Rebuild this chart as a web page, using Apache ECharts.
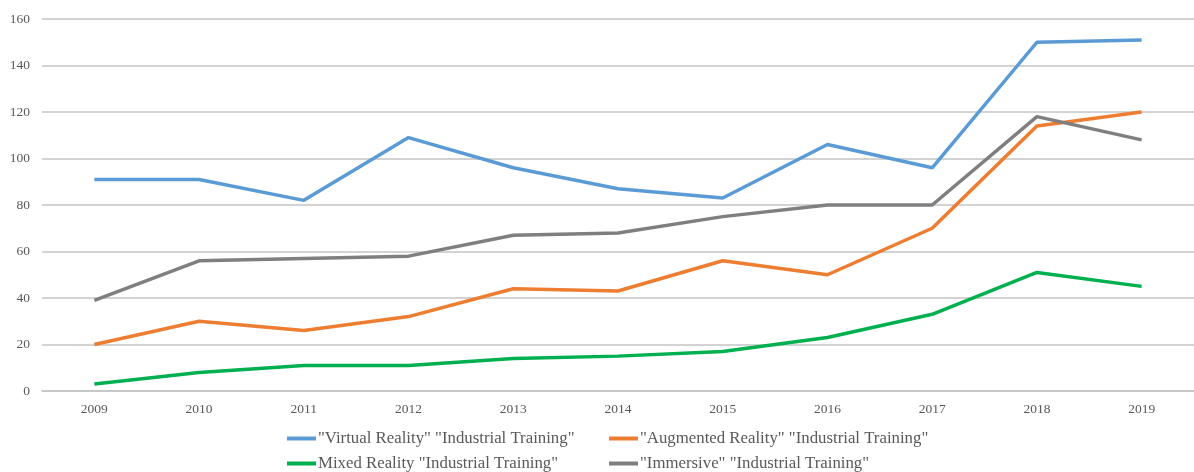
<!DOCTYPE html>
<html>
<head>
<meta charset="utf-8">
<script src="https://cdn.jsdelivr.net/npm/echarts@6/dist/echarts.min.js"></script>
<style>
  html, body { margin: 0; padding: 0; background: #fff; }
  #chart { width: 1194px; height: 472px; }
</style>
</head>
<body>
<div id="chart"></div>
<script>
var years = ['2009', '2010', '2011', '2012', '2013', '2014', '2015', '2016', '2017', '2018', '2019'];
var virtualReality = [91, 91, 82, 109, 96, 87, 83, 106, 96, 150, 151];
var augmentedReality = [20, 30, 26, 32, 44, 43, 56, 50, 70, 114, 120];
var mixedReality = [3, 8, 11, 11, 14, 15, 17, 23, 33, 51, 45];
var immersive = [39, 56, 57, 58, 67, 68, 75, 80, 80, 118, 108];

var names = [
  '"Virtual Reality" "Industrial Training"',
  '"Augmented Reality" "Industrial Training"',
  'Mixed Reality "Industrial Training"',
  '"Immersive" "Industrial Training"'
];
var colors = ['#5B9BD5', '#ED7D31', '#00B050', '#7F7F7F'];
var font = 'Liberation Serif, Times New Roman, serif';

// one legend per item so the two columns line up like the original
var legendPos = [
  { left: 287, top: 430 },
  { left: 609, top: 430 },
  { left: 287, top: 455 },
  { left: 609, top: 455 }
];
var legends = names.map(function (n, i) {
  return {
    data: [n],
    left: legendPos[i].left,
    top: legendPos[i].top,
    padding: 0,
    icon: 'rect',
    itemWidth: 29,
    itemHeight: 4,
    itemGap: 0,
    textStyle: { fontFamily: font, fontSize: 16.8, color: '#595959', padding: [0, 0, 0, -3] }
  };
});

function line(name, data, color) {
  return {
    name: name,
    type: 'line',
    data: data,
    symbol: 'none',
    smooth: false,
    itemStyle: { color: color },
    lineStyle: { color: color, width: 3.5 }
  };
}

var chart = echarts.init(document.getElementById('chart'));
chart.setOption({
  animation: false,
  color: colors,
  legend: legends,
  grid: { left: 42, right: 0, top: 19, bottom: 81 },
  xAxis: {
    type: 'category',
    data: years,
    boundaryGap: true,
    axisLine: { show: true, lineStyle: { color: '#c4c4c4', width: 1.5 } },
    axisTick: { show: false },
    axisLabel: { fontFamily: font, fontSize: 13.5, color: '#595959', margin: 11 }
  },
  yAxis: {
    type: 'value',
    min: 0,
    max: 160,
    interval: 20,
    axisLine: { show: false },
    axisTick: { show: false },
    axisLabel: { fontFamily: font, fontSize: 13.5, color: '#595959', margin: 12 },
    splitLine: { lineStyle: { color: '#c4c4c4', width: 1.5 } }
  },
  series: [
    line(names[0], virtualReality, colors[0]),
    line(names[1], augmentedReality, colors[1]),
    line(names[2], mixedReality, colors[2]),
    line(names[3], immersive, colors[3])
  ]
});
</script>
</body>
</html>
